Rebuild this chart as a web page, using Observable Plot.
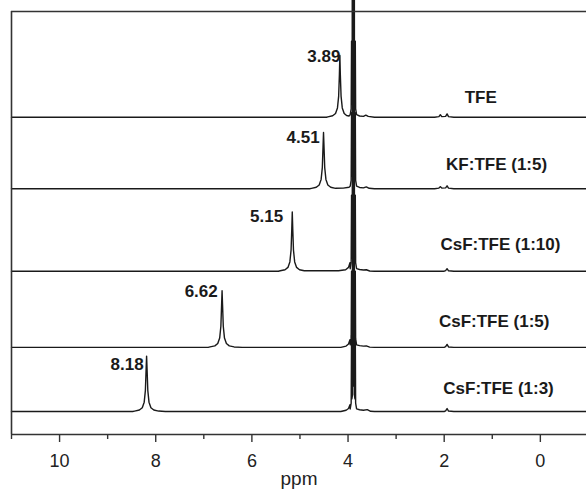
<!DOCTYPE html>
<html><head><meta charset="utf-8">
<script src="https://cdn.jsdelivr.net/npm/d3@7"></script>
<script src="https://cdn.jsdelivr.net/npm/@observablehq/plot@0.6"></script>
<style>body{margin:0;background:#fff;}</style>
</head><body><div id="chart"></div>
<script>
// ---- data ----
const traceNames = ["TFE", "KF:TFE (1:5)", "CsF:TFE (1:10)", "CsF:TFE (1:5)", "CsF:TFE (1:3)"];
const traceOffsets = [75.0, 58.1, 38.6, 20.6, 5.44];
const peakLabels = ["3.89", "4.51", "5.15", "6.62", "8.18"];
const peakLabelPpm = [4.16, 4.59, 5.35, 6.71, 8.25];
const peakLabelLevel = [89.4, 70.1, 51.5, 33.8, 16.5];
const nameLabelPpm = [1.24, 0.91, 0.83, 0.96, 0.87];
const nameLabelLevel = [79.7, 63.8, 45.0, 26.8, 10.8];
const ppmTicks = [10, 8, 6, 4, 2, 0];
const ppmMinorTicks = [11, 9, 7, 5, 3, 1];

// solvent CH2 quartet (common to all spectra), [ppm, intensity]
const solventQuartet = [[3.955,0.6],[3.935,2],[3.927,18],[3.92,3],[3.907,4],[3.90,250],[3.893,6],[3.882,6],[3.875,250],[3.868,4],[3.856,3],[3.849,18],[3.842,2],[3.822,0.6]];

const tfeSpectrum = [[11,0],[4.45,0],[4.42,0.1],[4.32,0.35],[4.26,0.9],[4.22,2.2],[4.195,5],[4.18,10],[4.17,14.6],[4.16,10],[4.145,5],[4.12,2.2],[4.08,0.9],[4.03,0.4],[3.98,0.3],
  [3.76,0.3],[3.68,0.2],[3.63,0.5],[3.58,0.2],[3.45,0],[2.2,0],[2.11,0.15],[2.08,0.6],[2.05,0.15],[1.97,0.2],[1.94,0.8],[1.91,0.15],[1.8,0],[-0.96,0]];
const kfSpectrum = [[11,0],[4.80,0],[4.76,0.1],[4.66,0.35],[4.60,0.9],[4.56,2.2],[4.535,5],[4.52,10],[4.51,13.3],[4.50,10],[4.485,5],[4.46,2.2],[4.42,0.9],[4.36,0.35],[4.26,0.1],[4.1,0.15],[3.98,0.35],
  [3.76,0.3],[3.68,0.2],[3.62,0.45],[3.56,0.1],[3.45,0],[2.2,0],[2.11,0.15],[2.08,0.5],[2.05,0.15],[1.97,0.2],[1.94,0.7],[1.91,0.15],[1.8,0],[-0.96,0]];
const csf10Spectrum = [[11,0],[5.45,0],[5.41,0.1],[5.31,0.35],[5.25,0.9],[5.21,2.2],[5.185,5],[5.17,10],[5.16,14.0],[5.15,10],[5.135,5],[5.11,2.2],[5.07,0.9],[5.01,0.35],[4.91,0.1],[4.2,0.1],[4.05,0.35],[3.99,0.9],[3.96,2],
  [3.76,0.4],[3.68,0.3],[3.62,0.35],[3.55,0.05],[3.45,0],[2.0,0],[1.97,0.15],[1.94,0.6],[1.91,0.1],[1.8,0],[-0.96,0]];
const csf5Spectrum = [[11,0],[6.91,0],[6.87,0.1],[6.77,0.35],[6.71,0.9],[6.67,2.2],[6.645,5],[6.63,10],[6.62,13.4],[6.61,10],[6.595,5],[6.57,2.2],[6.53,0.9],[6.47,0.35],[6.37,0.1],[6.2,0],[4.15,0],[4.04,0.3],[3.99,0.8],[3.96,1.8],
  [3.76,0.4],[3.68,0.3],[3.62,0.35],[3.55,0.05],[3.45,0],[2.0,0],[1.97,0.15],[1.94,0.7],[1.91,0.1],[1.8,0],[-0.96,0]];
const csf3Spectrum = [[11,0],[8.48,0],[8.44,0.1],[8.34,0.35],[8.28,0.9],[8.24,2.2],[8.215,5],[8.2,10],[8.19,13.1],[8.18,10],[8.165,5],[8.14,2.2],[8.10,0.9],[8.04,0.35],[7.94,0.1],[7.8,0],[4.15,0],[4.04,0.3],[3.99,0.7],[3.96,1.6],
  [3.76,0.4],[3.68,0.3],[3.60,0.45],[3.53,0.05],[3.45,0],[2.0,0],[1.97,0.15],[1.94,0.7],[1.91,0.1],[1.8,0],[-0.96,0]];
const spectra = [tfeSpectrum, kfSpectrum, csf10Spectrum, csf5Spectrum, csf3Spectrum];

// ---- build table ----
const rows = [];
spectra.forEach((pts, i) => {
  const all = d3.sort(pts.concat(solventQuartet), (a, b) => d3.descending(a[0], b[0]));
  for (const [ppm, v] of all) rows.push({trace: traceNames[i], ppm, level: traceOffsets[i] + v});
});

const font = "Arial, 'Liberation Sans', Helvetica, sans-serif";
const ink = "#1a1a1a";

const chart = Plot.plot({
  width: 586,
  height: 490,
  marginTop: 11,
  marginRight: 0,
  marginBottom: 56,
  marginLeft: 11,
  style: {fontFamily: font, background: "#fff", color: ink},
  x: {domain: [11, -0.96]},
  y: {domain: [0, 100], axis: null},
  marks: [
    Plot.line(rows, {x: "ppm", y: "level", z: "trace", stroke: ink, strokeWidth: 1.4, curve: "linear"}),
    Plot.ruleX([11], {stroke: "#333", strokeWidth: 1.6}),
    Plot.ruleY([100], {stroke: "#333", strokeWidth: 1.6}),
    Plot.ruleY([0], {stroke: "#333", strokeWidth: 1.6}),
    Plot.axisX({ticks: ppmTicks, tickSize: 8, tickPadding: 12, fontSize: 18, stroke: "#333", strokeWidth: 1.4, label: null, fill: "#222"}),
    Plot.axisX({ticks: ppmMinorTicks, tickSize: 5, tickFormat: () => "", stroke: "#333", strokeWidth: 1.4, label: null}),
    Plot.text(["ppm"], {frameAnchor: "bottom", dy: 50, fontSize: 19, fill: "#222"}),
    Plot.text(peakLabels, {x: (d, i) => peakLabelPpm[i], y: (d, i) => peakLabelLevel[i], text: d => d, textAnchor: "end", fontWeight: "bold", fontSize: 17, fill: ink}),
    Plot.text(traceNames, {x: (d, i) => nameLabelPpm[i], y: (d, i) => nameLabelLevel[i], text: d => d, textAnchor: "middle", fontWeight: "bold", fontSize: 17, fill: ink})
  ]
});
document.getElementById("chart").appendChild(chart);
</script>
</body></html>
